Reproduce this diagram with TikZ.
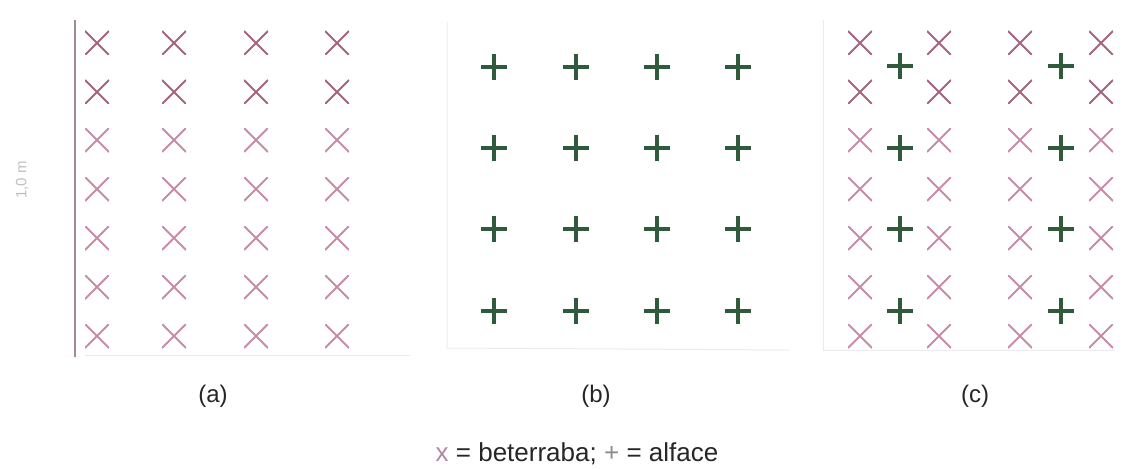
\documentclass[tikz,border=0pt]{standalone}
\usepackage{fontspec}
\setmainfont{Liberation Sans}
\begin{document}
\begin{tikzpicture}[x=1pt,y=-1pt,
  beet/.style={draw=none,inner sep=0pt,minimum size=24pt,
    path picture={\draw[line width=1.9pt,#1]
      (path picture bounding box.north west)--(path picture bounding box.south east)
      (path picture bounding box.north east)--(path picture bounding box.south west);}},
  lett/.style={draw=none,inner sep=0pt,minimum size=26pt,
    path picture={\draw[line width=3.6pt,lettcol]
      (path picture bounding box.north)--(path picture bounding box.south)
      (path picture bounding box.west)--(path picture bounding box.east);}},
  frame/.style={draw=black!8,line width=1pt},
  lbl/.style={font=\fontsize{24}{28}\selectfont,text=black!85,inner sep=0pt}
]
\definecolor{beetdark}{HTML}{A5657F}
\definecolor{beetlight}{HTML}{C88CAA}
\definecolor{lettcol}{HTML}{2F5A3C}
\definecolor{axiscol}{HTML}{A08A96}
\useasboundingbox (0,0) rectangle (1123,468);

% panel frames
\coordinate (aT) at (75,20);
\coordinate (aB) at (75,357);
\draw[axiscol,line width=1.3pt] (aT) -- (aB);
\coordinate (aBL) at (85,355);
\coordinate (aBR) at (410,355);
\draw[frame] (aBL) -- (aBR);
\coordinate (bT) at (447,22);
\coordinate (bB) at (447,348);
\coordinate (bR) at (790,350);
\draw[frame] (bT) -- (bB) -- (bR);
\coordinate (cT) at (823,20);
\coordinate (cB) at (823,350);
\coordinate (cR) at (1115,350);
\draw[frame] (cT) -- (cB) -- (cR);

% side label
\node[rotate=90,font=\fontsize{15}{18}\selectfont,text=black!25,inner sep=0pt] (side) at (22,180) {1,0 m};

% panel (a): beets
\foreach \r/\y in {1/43,2/92,3/140,4/189,5/238,6/287,7/336}{
  \foreach \c/\x in {1/97,2/174,3/256,4/337}{
    \ifnum\r<3
      \node[beet=beetdark] (a\r\c) at (\x,\y) {};
    \else
      \node[beet=beetlight] (a\r\c) at (\x,\y) {};
    \fi
  }
}

% panel (b): lettuce
\foreach \r/\y in {1/67,2/148,3/229,4/311}{
  \foreach \c/\x in {1/494,2/576,3/657,4/738}{
    \node[lett] (b\r\c) at (\x,\y) {};
  }
}

% panel (c): intercropping
\foreach \r/\y in {1/43,2/92,3/140,4/189,5/238,6/287,7/336}{
  \foreach \c/\x in {1/860,2/939,3/1020,4/1101}{
    \ifnum\r<3
      \node[beet=beetdark] (c\r\c) at (\x,\y) {};
    \else
      \node[beet=beetlight] (c\r\c) at (\x,\y) {};
    \fi
  }
}
\foreach \r/\y in {1/66,2/148,3/229,4/311}{
  \foreach \c/\x in {1/900,2/1061}{
    \node[lett] (cl\r\c) at (\x,\y) {};
  }
}

% captions
\node[lbl] (capa) at (213,396) {(a)};
\node[lbl] (capb) at (596,396) {(b)};
\node[lbl] (capc) at (975,396) {(c)};

\node[lbl,font=\fontsize{26}{30}\selectfont,anchor=base] (legend) at (577,461)
  {\textcolor{beetlight!70!gray}{x} = beterraba; \textcolor{black!45}{+} = alface};
\end{tikzpicture}
\end{document}
